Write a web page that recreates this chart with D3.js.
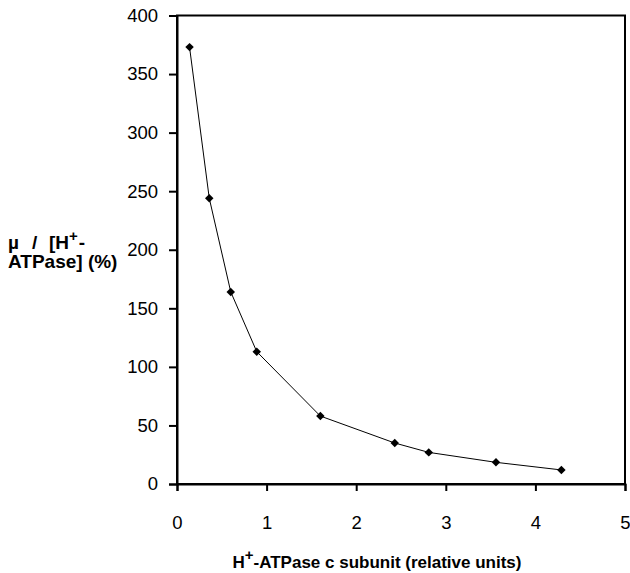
<!DOCTYPE html>
<html>
<head>
<meta charset="utf-8">
<script src="https://cdn.jsdelivr.net/npm/d3@7"></script>
<style>
  body { margin: 0; background: #fff; }
  svg { display: block; font-family: "Liberation Sans", Arial, sans-serif; }
</style>
</head>
<body>
<script>
// data
const subunit = [0.14, 0.36, 0.60, 0.89, 1.60, 2.43, 2.81, 3.56, 4.29];
const ratio = [373, 244, 164, 113, 58, 35, 27, 18.5, 12];
const xTicks = [0, 1, 2, 3, 4, 5];
const yTicks = [0, 50, 100, 150, 200, 250, 300, 350, 400];

const width = 630, height = 573;
const margin = { top: 15.5, right: 5, bottom: 89, left: 177 };

const svg = d3.select(document.body).append("svg")
  .attr("width", width)
  .attr("height", height);

const x = d3.scaleLinear()
  .domain([0, 5])
  .range([margin.left, width - margin.right]);

const y = d3.scaleLinear()
  .domain([0, 400])
  .range([height - margin.bottom, margin.top]);

// frame
svg.append("rect")
  .attr("x", x(0))
  .attr("y", y(400))
  .attr("width", x(5) - x(0))
  .attr("height", y(0) - y(400))
  .attr("fill", "none")
  .attr("stroke", "#000")
  .attr("stroke-width", 2);

const styleAxis = g => {
  g.select(".domain").attr("stroke", "#000").attr("stroke-width", 2);
  g.selectAll(".tick line").attr("stroke", "#000").attr("stroke-width", 2);
  g.selectAll(".tick text")
    .attr("font-size", 18.5)
    .attr("fill", "#000")
    .attr("font-family", "Liberation Sans, Arial, sans-serif");
};

// y axis
svg.append("g")
  .attr("transform", `translate(${x(0)},0)`)
  .call(d3.axisLeft(y).tickValues(yTicks).tickSize(8).tickPadding(11))
  .call(styleAxis);

// x axis
svg.append("g")
  .attr("transform", `translate(0,${y(0)})`)
  .call(d3.axisBottom(x).tickValues(xTicks).tickFormat(d3.format("d")).tickSize(7).tickPadding(25))
  .call(styleAxis);

// line
const line = d3.line()
  .x((d, i) => x(subunit[i]))
  .y(d => y(d));

svg.append("path")
  .datum(ratio)
  .attr("d", line)
  .attr("fill", "none")
  .attr("stroke", "#000")
  .attr("stroke-width", 1);

// diamond markers
svg.append("g")
  .selectAll("path")
  .data(ratio)
  .join("path")
    .attr("transform", (d, i) => `translate(${x(subunit[i])},${y(d)}) rotate(45)`)
    .attr("d", d3.symbol().type(d3.symbolSquare).size(36))
    .attr("fill", "#000");

// x axis title
const xt = svg.append("text")
  .attr("x", 377)
  .attr("y", 568)
  .attr("text-anchor", "middle")
  .attr("font-size", 17)
  .attr("font-weight", "bold")
  .attr("fill", "#000");
xt.append("tspan").text("H");
xt.append("tspan").attr("dy", -8).attr("font-size", 15).text("+");
xt.append("tspan").attr("dy", 8).text("-ATPase c subunit (relative units)");

// y axis title
const yt = svg.append("text")
  .attr("font-size", 19)
  .attr("font-weight", "bold")
  .attr("fill", "#000");
yt.append("tspan").attr("x", 8).attr("y", 249).text("\u00b5");
yt.append("tspan").attr("x", 32).text("/");
yt.append("tspan").attr("x", 49).text("[H");
yt.append("tspan").attr("dy", -8).attr("font-size", 15).text("+");
yt.append("tspan").attr("dx", 1).attr("dy", 8).text("-");
yt.append("tspan").attr("x", 8).attr("y", 268).text("ATPase] (%)");
</script>
</body>
</html>
